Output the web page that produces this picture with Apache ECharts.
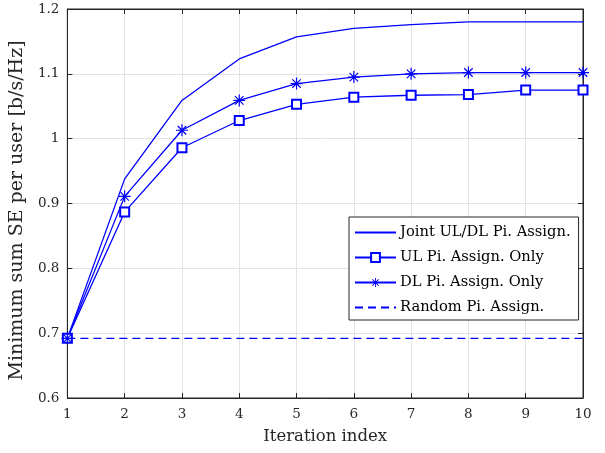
<!DOCTYPE html>
<html>
<head>
<meta charset="utf-8">
<script src="https://cdn.jsdelivr.net/npm/echarts@6/dist/echarts.min.js"></script>
<style>
html,body{margin:0;padding:0;background:#fff;}
#chart{width:605px;height:453px;}
</style>
</head>
<body>
<div id="chart"></div>
<script>
var iterations = [1, 2, 3, 4, 5, 6, 7, 8, 9, 10];
var jointSE = [0.692, 0.938, 1.059, 1.123, 1.157, 1.170, 1.176, 1.180, 1.180, 1.180];
var ulOnlySE = [0.692, 0.887, 0.986, 1.028, 1.053, 1.064, 1.067, 1.068, 1.075, 1.075];
var dlOnlySE = [0.692, 0.911, 1.013, 1.059, 1.085, 1.095, 1.100, 1.102, 1.102, 1.102];
var randomSE = [0.692, 0.692, 0.692, 0.692, 0.692, 0.692, 0.692, 0.692, 0.692, 0.692];
var seriesNames = ['Joint UL/DL Pi. Assign.', 'UL Pi. Assign. Only', 'DL Pi. Assign. Only', 'Random Pi. Assign.'];
var xLabel = 'Iteration index';
var yLabel = 'Minimum sum SE per user [b/s/Hz]';

var BLUE = '#0000ff';
var AX = '#262626';
var FONT = 'DejaVu Serif';
var starPath = 'path://M-1,-10 L1,-10 L1,10 L-1,10 Z M-10,-1 L10,-1 L10,1 L-10,1 Z M7.78,6.36 L6.36,7.78 L-7.78,-6.36 L-6.36,-7.78 Z M6.36,-7.78 L7.78,-6.36 L-6.36,7.78 L-7.78,6.36 Z';

function pairs(arr) { return iterations.map(function (x, i) { return [x, arr[i]]; }); }

var chart = echarts.init(document.getElementById('chart'), null, {renderer: 'canvas'});
var axisCommon = {
  axisLine: {show: true, lineStyle: {color: AX, width: 1}},
  axisTick: {show: true, inside: true, length: 5, lineStyle: {color: AX}}
};
chart.setOption({
  animation: false,
  backgroundColor: '#fff',
  textStyle: {fontFamily: FONT},
  grid: {left: 67, right: 22, top: 9, bottom: 55, show: true, borderColor: AX, borderWidth: 1, backgroundColor: 'transparent'},
  legend: {
    orient: 'vertical',
    left: 349, top: 217,
    padding: [8, 8, 5, 5],
    itemWidth: 41, itemHeight: 11, itemGap: 10,
    backgroundColor: '#fff',
    borderColor: AX, borderWidth: 1, borderRadius: 0,
    textStyle: {fontFamily: FONT, fontSize: 14.7, color: '#000', padding: [0, 0, 0, -1]},
    data: [
      {name: seriesNames[0], itemStyle: {opacity: 0}},
      {name: seriesNames[1]},
      {name: seriesNames[2]},
      {name: seriesNames[3], itemStyle: {opacity: 0}}
    ]
  },
  xAxis: [
    Object.assign({
      type: 'value', min: 1, max: 10, interval: 1,
      name: xLabel, nameLocation: 'middle', nameGap: 30,
      nameTextStyle: {fontFamily: FONT, fontSize: 16.5, color: '#262626'},
      axisLabel: {fontFamily: FONT, fontSize: 13.5, color: '#262626', margin: 9},
      splitLine: {show: true, lineStyle: {color: '#e3e3e3', width: 1}}
    }, axisCommon),
    Object.assign({
      type: 'value', min: 1, max: 10, interval: 1, position: 'top',
      axisLabel: {show: false}, splitLine: {show: false}
    }, axisCommon)
  ],
  yAxis: [
    Object.assign({
      type: 'value', min: 0.6, max: 1.2, interval: 0.1,
      name: yLabel, nameLocation: 'middle', nameGap: 34,
      nameTextStyle: {fontFamily: FONT, fontSize: 19, color: '#262626', padding: [0, 14, 0, 0]},
      axisLabel: {fontFamily: FONT, fontSize: 13.5, color: '#262626', margin: 8},
      splitLine: {show: true, lineStyle: {color: '#e3e3e3', width: 1}}
    }, axisCommon),
    Object.assign({
      type: 'value', min: 0.6, max: 1.2, interval: 0.1, position: 'right',
      axisLabel: {show: false}, splitLine: {show: false}
    }, axisCommon)
  ],
  series: [
    {name: seriesNames[0], type: 'line', data: pairs(jointSE), showSymbol: false, symbol: 'none',
     lineStyle: {color: BLUE, width: 1.3}, itemStyle: {color: BLUE}},
    {name: seriesNames[1], type: 'line', data: pairs(ulOnlySE), symbol: 'emptyRect', symbolSize: 9,
     lineStyle: {color: BLUE, width: 1.3}, itemStyle: {color: BLUE, borderColor: BLUE, borderWidth: 1.3}},
    {name: seriesNames[2], type: 'line', data: pairs(dlOnlySE), symbol: starPath, symbolSize: 12,
     lineStyle: {color: BLUE, width: 1.3}, itemStyle: {color: BLUE}},
    {name: seriesNames[3], type: 'line', data: pairs(randomSE), showSymbol: false, symbol: 'none',
     lineStyle: {color: BLUE, width: 1.3, type: [8, 5]}, itemStyle: {color: BLUE}}
  ]
});
</script>
</body>
</html>
